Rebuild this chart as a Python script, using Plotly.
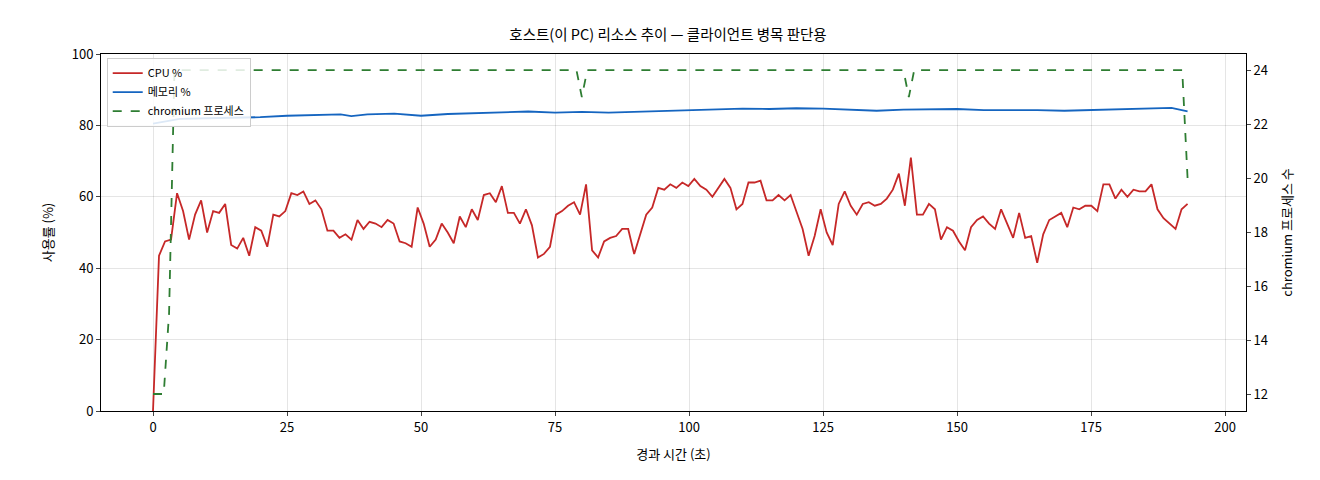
import numpy as np
import plotly.graph_objects as go

# CPU samples (~1.12 s apart)
cpu = [0, 43.5, 47.5, 48, 61, 56, 48, 55, 59, 50, 56, 55.5, 58, 46.5, 45.5, 48.5, 43.5, 51.5, 50.5, 46,
       55, 54.5, 56, 61, 60.5, 61.5, 58, 59, 56.5, 50.5, 50.5, 48.5, 49.5, 48, 53.5, 51, 53, 52.5, 51.5, 53.5,
       52.5, 47.5, 47, 46, 57, 52.5, 46, 48, 52.5, 50, 47, 54.5, 51.5, 56.5, 53.5, 60.5, 61, 58.5, 63, 55.5,
       55.5, 52.5, 56.5, 52, 43, 44, 46, 55, 56, 57.5, 58.5, 55, 63.5, 45, 43, 47.5, 48.5, 49, 51, 51,
       44, 49.5, 55, 57, 62.5, 62, 63.5, 62.5, 64, 63, 65, 63, 62, 60, 62.5, 65, 62.5, 56.5, 58, 64,
       64, 64.5, 59, 59, 60.5, 59, 60.5, 56, 51, 43.5, 49, 56.5, 50, 46.5, 58, 61.5, 57.5, 55, 58, 58.5,
       57.5, 58, 59.5, 62, 66.5, 57.5, 71, 55, 55, 58, 56.5, 48, 51.5, 50.5, 47.5, 45, 51.5, 53.5, 54.5, 52.5,
       51, 56.5, 52.5, 48.5, 55.5, 48.5, 49, 41.5, 49.5, 53.5, 54.5, 55.5, 51.5, 57, 56.5, 57.5, 57.5, 56, 63.5, 63.5,
       59.5, 62, 60, 62, 61.5, 61.5, 63.5, 56.5, 54, 52.5, 51, 56.5, 58]
cpu_t = np.arange(len(cpu)) * (193.0 / (len(cpu) - 1))

mem_t = [0, 5, 10, 15, 20, 25, 30, 35, 37, 40, 45, 50, 55, 60, 65, 70, 75, 80, 85, 90, 95, 100,
         105, 110, 115, 120, 125, 130, 135, 140, 145, 150, 155, 160, 165, 170, 175, 180, 185, 190, 193]
mem = [80.5, 81.8, 82.0, 82.1, 82.3, 82.7, 82.9, 83.1, 82.6, 83.1, 83.3, 82.7, 83.2, 83.4, 83.7, 83.9,
       83.6, 83.8, 83.6, 83.8, 83.9, 84.2, 84.4, 84.7, 84.6, 84.8, 84.7, 84.3, 84.1, 84.4, 84.5, 84.6,
       84.3, 84.4, 84.3, 84.1, 84.3, 84.5, 84.7, 84.9, 83.9]

proc_t = [0, 1, 2, 3, 4, 5, 79, 80, 81, 140, 141, 142, 192, 193]
proc = [12, 12, 12, 15, 24, 24, 24, 23, 24, 24, 23, 24, 24, 20]

fig = go.Figure()
fig.add_trace(go.Scatter(x=cpu_t, y=cpu, mode="lines", name="CPU %",
                         line=dict(color="#c62828", width=1.8)))
fig.add_trace(go.Scatter(x=mem_t, y=mem, mode="lines", name="메모리 %",
                         line=dict(color="#1565c0", width=1.8)))
fig.add_trace(go.Scatter(x=proc_t, y=proc, mode="lines", name="chromium 프로세스", yaxis="y2",
                         line=dict(color="#2e7d32", width=1.8, dash="dash")))

font = "Noto Sans CJK KR"
ax = dict(showline=True, linecolor="black", linewidth=1, ticks="outside", ticklen=4,
          tickfont=dict(size=13, color="black"), zeroline=False, automargin=False)
fig.update_layout(
    width=1320, height=480, plot_bgcolor="white", paper_bgcolor="white",
    font=dict(family=font, color="black"),
    margin=dict(l=93, r=82, t=46, b=77, autoexpand=False),
    title=dict(text="호스트(이 PC) 리소스 추이 — 클라이언트 병목 판단용", x=0.5, y=0.955,
               xanchor="center", font=dict(size=14.5)),
    xaxis=dict(ax, range=[-9.7, 203.9], dtick=25, mirror=True, showgrid=True,
               gridcolor="rgba(0,0,0,0.1)", title=dict(text="경과 시간 (초)", font=dict(size=13))),
    yaxis=dict(ax, range=[0, 100], dtick=20, showgrid=True, gridcolor="rgba(0,0,0,0.1)",
               title=dict(text="사용률 (%)", font=dict(size=13))),
    yaxis2=dict(ax, overlaying="y", side="right", range=[11.37, 24.6], dtick=2, showgrid=False,
                title=dict(text="chromium 프로세스 수", font=dict(size=13))),
    legend=dict(x=0.005, y=0.99, xanchor="left", yanchor="top", bgcolor="rgba(255,255,255,0.85)",
                bordercolor="#cccccc", borderwidth=1, font=dict(size=11)),
    showlegend=True,
)
fig.write_html("out.html")
